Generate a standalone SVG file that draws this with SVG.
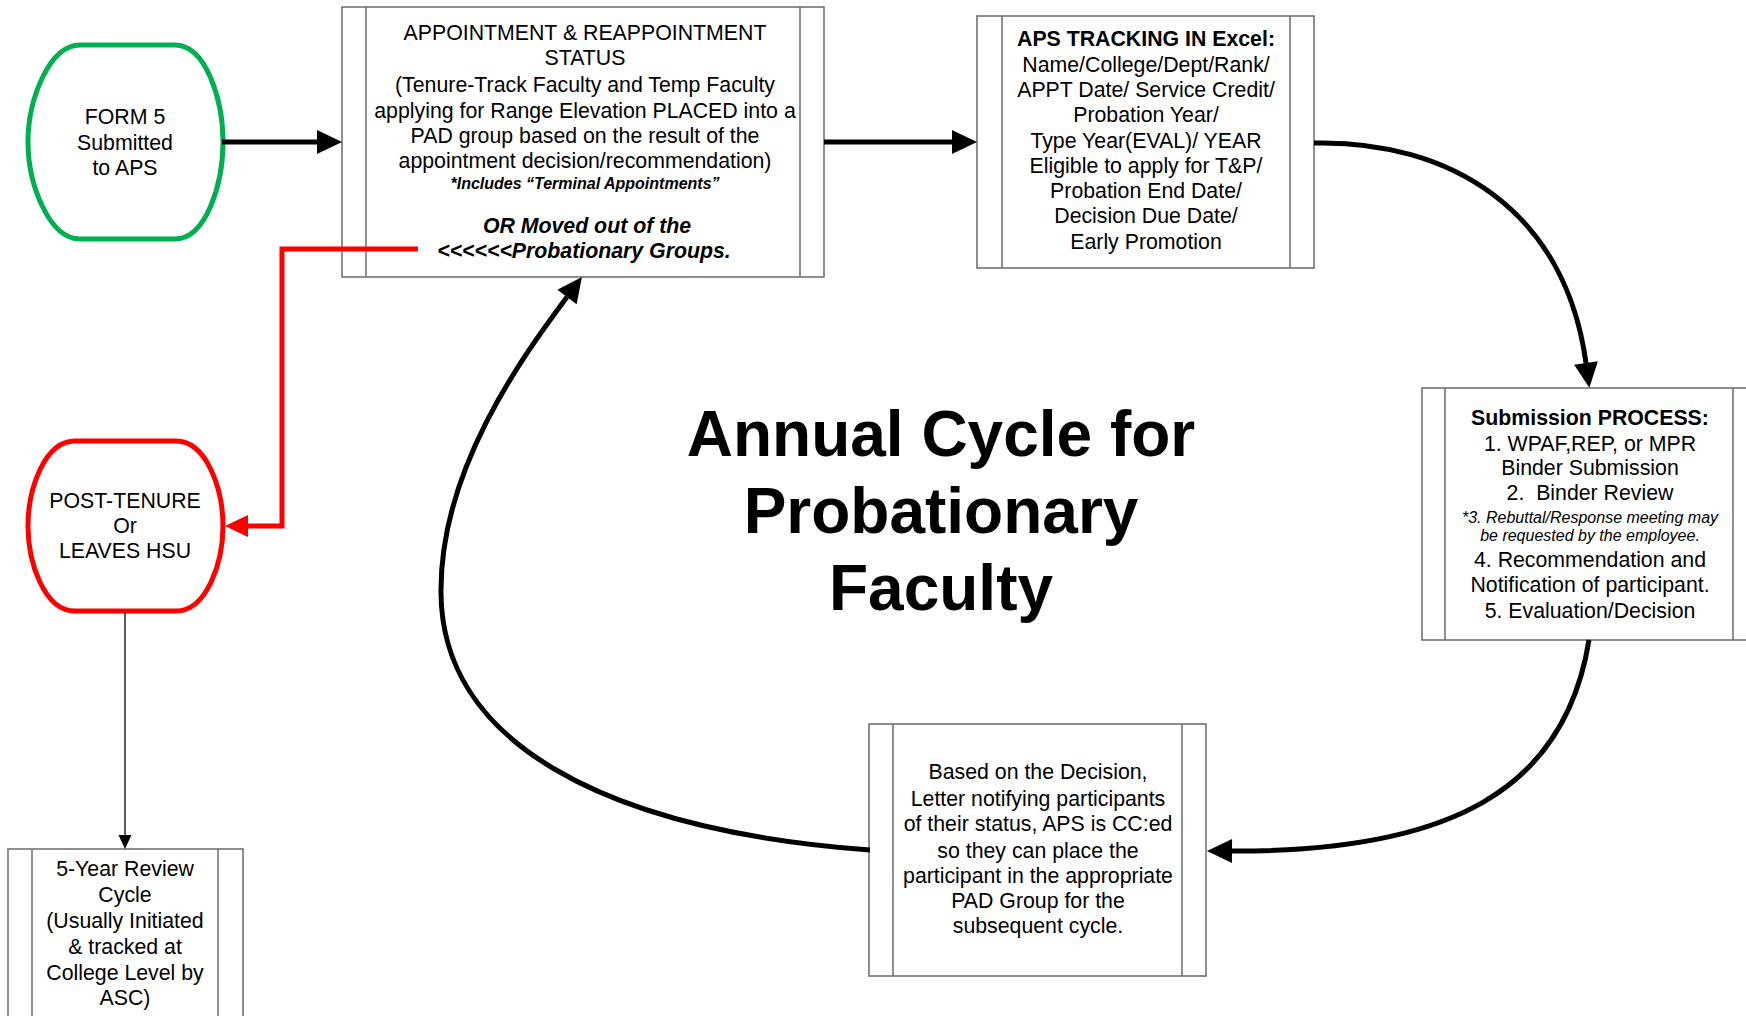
<svg xmlns="http://www.w3.org/2000/svg" width="1746" height="1016" viewBox="0 0 1746 1016">
<style>
text{font-family:"Liberation Sans",Arial,sans-serif;fill:#000;text-anchor:middle}
.t21{font-size:21.3px}
.bi{font-weight:bold;font-style:italic}
.b{font-weight:bold}
.i{font-style:italic}
.box{fill:#fff;stroke:#6a6a6a;stroke-width:1.5}
.bar{stroke:#6a6a6a;stroke-width:1.5}
.title{font-size:64px;font-weight:bold}
.conn{fill:none;stroke:#000;stroke-width:5}
.red{fill:none;stroke:#ff0000;stroke-width:5}
.thin{fill:none;stroke:#000;stroke-width:1.3}
</style>
<defs>
<marker id="ah" markerUnits="userSpaceOnUse" markerWidth="26" markerHeight="26" refX="0" refY="12" orient="auto" overflow="visible"><path d="M0,0 L25,12 L0,24 z" fill="#000"/></marker>
<marker id="ahr" markerUnits="userSpaceOnUse" markerWidth="24" markerHeight="24" refX="0" refY="11" orient="auto" overflow="visible"><path d="M0,0 L23,11 L0,22 z" fill="#ff0000"/></marker>
<marker id="aht" markerUnits="userSpaceOnUse" markerWidth="15" markerHeight="14" refX="0" refY="6.5" orient="auto" overflow="visible"><path d="M0,0 L14,6.5 L0,13 z" fill="#000"/></marker>
</defs>
<rect width="1746" height="1016" fill="#fff"/>

<g id="form5">
<path d="M80,45 H175 C206,45 223,100 223,142 C223,184 206,239 175,239 H80 C49,239 28,184 28,142 C28,100 49,45 80,45 Z" fill="#fff" stroke="#00b050" stroke-width="5"/>
<text class="t21" x="125" y="124">FORM 5</text>
<text class="t21" x="125" y="150">Submitted</text>
<text class="t21" x="125" y="175">to APS</text>
</g>

<g id="appointment">
<rect class="box" x="342" y="7" width="482" height="270"/>
<line class="bar" x1="366" y1="7" x2="366" y2="277"/>
<line class="bar" x1="800" y1="7" x2="800" y2="277"/>
<text class="t21" x="585" y="40">APPOINTMENT &amp; REAPPOINTMENT</text>
<text class="t21" x="585" y="65">STATUS</text>
<text class="t21" x="585" y="92">(Tenure-Track Faculty and Temp Faculty</text>
<text class="t21" x="585" y="118">applying for Range Elevation PLACED into a</text>
<text class="t21" x="585" y="143">PAD group based on the result of the</text>
<text class="t21" x="585" y="168">appointment decision/recommendation)</text>
<text class="bi" style="font-size:16px" x="585" y="189">*Includes “Terminal Appointments”</text>
<text class="bi t21" x="587" y="233">OR Moved out of the</text>
<text class="bi t21" x="584" y="258">&lt;&lt;&lt;&lt;&lt;&lt;Probationary Groups.</text>
</g>

<g id="aps-tracking">
<rect class="box" x="977" y="16" width="337" height="252"/>
<line class="bar" x1="1002" y1="16" x2="1002" y2="268"/>
<line class="bar" x1="1290" y1="16" x2="1290" y2="268"/>
<text class="t21 b" x="1146" y="46">APS TRACKING IN Excel:</text>
<text class="t21" x="1146" y="72">Name/College/Dept/Rank/</text>
<text class="t21" x="1146" y="97">APPT Date/ Service Credit/</text>
<text class="t21" x="1146" y="122">Probation Year/</text>
<text class="t21" x="1146" y="148">Type Year(EVAL)/ YEAR</text>
<text class="t21" x="1146" y="173">Eligible to apply for T&amp;P/</text>
<text class="t21" x="1146" y="198">Probation End Date/</text>
<text class="t21" x="1146" y="223">Decision Due Date/</text>
<text class="t21" x="1146" y="249">Early Promotion</text>
</g>

<g id="submission">
<rect class="box" x="1422" y="388" width="336" height="252"/>
<line class="bar" x1="1445" y1="388" x2="1445" y2="640"/>
<line class="bar" x1="1733" y1="388" x2="1733" y2="640"/>
<text class="t21 b" x="1590" y="425">Submission PROCESS:</text>
<text class="t21" x="1590" y="451">1. WPAF,REP, or MPR</text>
<text class="t21" x="1590" y="475">Binder Submission</text>
<text class="t21" x="1590" y="500" xml:space="preserve">2.  Binder Review</text>
<text class="i" style="font-size:16px" x="1590" y="523">*3. Rebuttal/Response meeting may</text>
<text class="i" style="font-size:16px" x="1590" y="541">be requested by the employee.</text>
<text class="t21" x="1590" y="567">4. Recommendation and</text>
<text class="t21" x="1590" y="592">Notification of participant.</text>
<text class="t21" x="1590" y="618">5. Evaluation/Decision</text>
</g>

<g id="decision-letter">
<rect class="box" x="869" y="724" width="337" height="252"/>
<line class="bar" x1="893" y1="724" x2="893" y2="976"/>
<line class="bar" x1="1182" y1="724" x2="1182" y2="976"/>
<text class="t21" x="1038" y="779">Based on the Decision,</text>
<text class="t21" x="1038" y="806">Letter notifying participants</text>
<text class="t21" x="1038" y="831">of their status, APS is CC:ed</text>
<text class="t21" x="1038" y="858">so they can place the</text>
<text class="t21" x="1038" y="883">participant in the appropriate</text>
<text class="t21" x="1038" y="908">PAD Group for the</text>
<text class="t21" x="1038" y="933">subsequent cycle.</text>
</g>

<g id="post-tenure">
<path d="M75,441 H176 C207,441 223,490 223,526 C223,562 207,611 176,611 H75 C44,611 28,562 28,526 C28,490 44,441 75,441 Z" fill="#fff" stroke="#ff0000" stroke-width="5"/>
<text class="t21" x="125" y="508">POST-TENURE</text>
<text class="t21" x="125" y="533">Or</text>
<text class="t21" x="125" y="558">LEAVES HSU</text>
</g>

<g id="five-year">
<rect class="box" x="8" y="849" width="235" height="190"/>
<line class="bar" x1="32" y1="849" x2="32" y2="1039"/>
<line class="bar" x1="218" y1="849" x2="218" y2="1039"/>
<text class="t21" x="125" y="876">5-Year Review</text>
<text class="t21" x="125" y="902">Cycle</text>
<text class="t21" x="125" y="928">(Usually Initiated</text>
<text class="t21" x="125" y="954">&amp; tracked at</text>
<text class="t21" x="125" y="980">College Level by</text>
<text class="t21" x="125" y="1005">ASC)</text>
</g>

<g id="title">
<text class="title" x="941" y="456">Annual Cycle for</text>
<text class="title" x="941" y="533">Probationary</text>
<text class="title" x="941" y="610">Faculty</text>
</g>

<g id="connectors">
<path class="conn" d="M222,142 H317" marker-end="url(#ah)"/>
<path class="conn" d="M824,142 H952" marker-end="url(#ah)"/>
<path class="conn" d="M1314,143 C1450,140 1565,210 1586,363" marker-end="url(#ah)"/>
<path class="conn" d="M1589,640 C1565,790 1450,852 1232,851" marker-end="url(#ah)"/>
<path class="conn" d="M870,850 C600,830 440,740 441,590 C441,470 520,360 567,297" marker-end="url(#ah)"/>
<path class="red" d="M418,249 H282 V526 H248" marker-end="url(#ahr)"/>
<path class="thin" d="M125,611 V835" marker-end="url(#aht)"/>
</g>
</svg>
